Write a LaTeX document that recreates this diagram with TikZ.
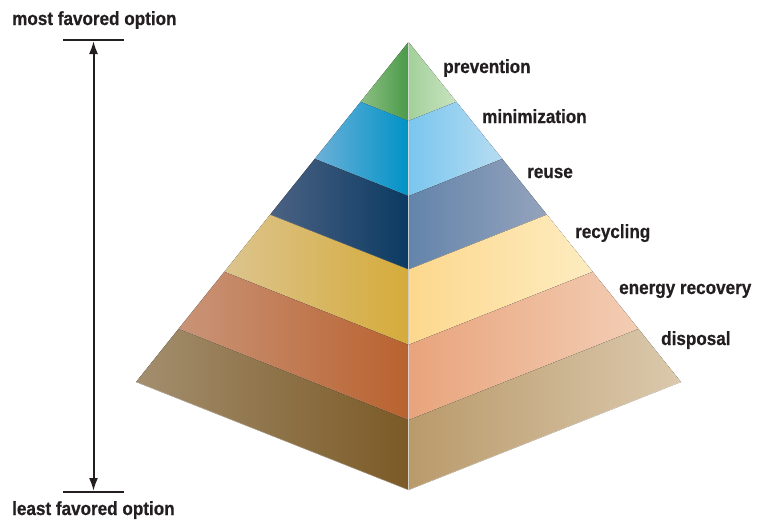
\documentclass[tikz,border=0pt]{standalone}
\usepackage{fontspec}
\setmainfont[FakeStretch=0.9, BoldFeatures={FakeBold=0.6}]{Liberation Sans}
\usetikzlibrary{calc,arrows.meta}
\definecolor{txt}{HTML}{231F20}
\definecolor{pvL1}{HTML}{8DBF83}\definecolor{pvL2}{HTML}{4A9A4A}\definecolor{pvR1}{HTML}{A3D09A}\definecolor{pvR2}{HTML}{C8E3BF}
\definecolor{miL1}{HTML}{6CB0D8}\definecolor{miL2}{HTML}{0093C6}\definecolor{miR1}{HTML}{7AC6EE}\definecolor{miR2}{HTML}{B6DCF2}
\definecolor{ruL1}{HTML}{4B6283}\definecolor{ruL2}{HTML}{0B3A62}\definecolor{ruR1}{HTML}{6384AA}\definecolor{ruR2}{HTML}{94A3BC}
\definecolor{rcL1}{HTML}{DCC48E}\definecolor{rcL2}{HTML}{D5AB3A}\definecolor{rcR1}{HTML}{FDD88E}\definecolor{rcR2}{HTML}{FDECC0}
\definecolor{enL1}{HTML}{C99478}\definecolor{enL2}{HTML}{B9622F}\definecolor{enR1}{HTML}{E8A47C}\definecolor{enR2}{HTML}{F3CDB4}
\definecolor{diL1}{HTML}{A38E6E}\definecolor{diL2}{HTML}{7B5A26}\definecolor{diR1}{HTML}{B99A6B}\definecolor{diR2}{HTML}{DBC9AD}
\newcommand\pyrlayer[6]{%
  \fill[left color=#3, right color=#4] ($(A)!#1!(L)$) -- ($(A)!#1!(C)$) -- ($(A)!#2!(C)$) -- ($(A)!#2!(L)$) -- cycle;
  \fill[left color=#5, right color=#6] ($(A)!#1!(C)$) -- ($(A)!#1!(R)$) -- ($(A)!#2!(R)$) -- ($(A)!#2!(C)$) -- cycle;
  \draw[sepline] ($(A)!#2!(L)$) -- ($(A)!#2!(C)$) -- ($(A)!#2!(R)$);
}
\begin{document}
\begin{tikzpicture}[x=1pt,y=-1pt,
  lbl/.style={anchor=base west, inner sep=0pt, text=txt, font=\fontsize{19}{19}\selectfont\bfseries},
  sepline/.style={draw=white, opacity=0.45, line width=0.6pt},
  bar/.style={draw=txt, line width=2pt},
  dimarrow/.style={draw=txt, line width=2pt, {Latex[length=13pt,width=9pt]}-{Latex[length=13pt,width=9pt]}}]
\useasboundingbox (0,0) rectangle (758,520);
\coordinate (A) at (408.5,42);
\coordinate (L) at (136,382);
\coordinate (C) at (408.5,490);
\coordinate (R) at (681,382);
\pyrlayer{0}{0.176}{pvL1}{pvL2}{pvR1}{pvR2}
\pyrlayer{0.176}{0.344}{miL1}{miL2}{miR1}{miR2}
\pyrlayer{0.344}{0.508}{ruL1}{ruL2}{ruR1}{ruR2}
\pyrlayer{0.508}{0.676}{rcL1}{rcL2}{rcR1}{rcR2}
\pyrlayer{0.676}{0.844}{enL1}{enL2}{enR1}{enR2}
\pyrlayer{0.844}{1}{diL1}{diL2}{diR1}{diR2}
\draw[white!75!gray, opacity=0.8, line width=1pt] (A) -- (C);
% labels
\node[lbl] (prev) at (443,73) {prevention};
\node[lbl] (mini) at (482,123) {minimization};
\node[lbl] (reuse) at (527,178) {reuse};
\node[lbl] (recy) at (575,238) {recycling};
\node[lbl] (ener) at (619,294) {energy recovery};
\node[lbl] (disp) at (661,345) {disposal};
\node[lbl] (most) at (12,25) {most favored option};
\node[lbl] (least) at (12,515) {least favored option};
% scale arrow
\coordinate (tl) at (63,40); \coordinate (tr) at (124,40);
\coordinate (bl) at (63,492); \coordinate (br) at (124,492);
\coordinate (at) at (93.5,41); \coordinate (ab) at (93.5,491);
\draw[bar] (tl) -- (tr);
\draw[bar] (bl) -- (br);
\draw[dimarrow] (at) -- (ab);
\end{tikzpicture}
\end{document}
